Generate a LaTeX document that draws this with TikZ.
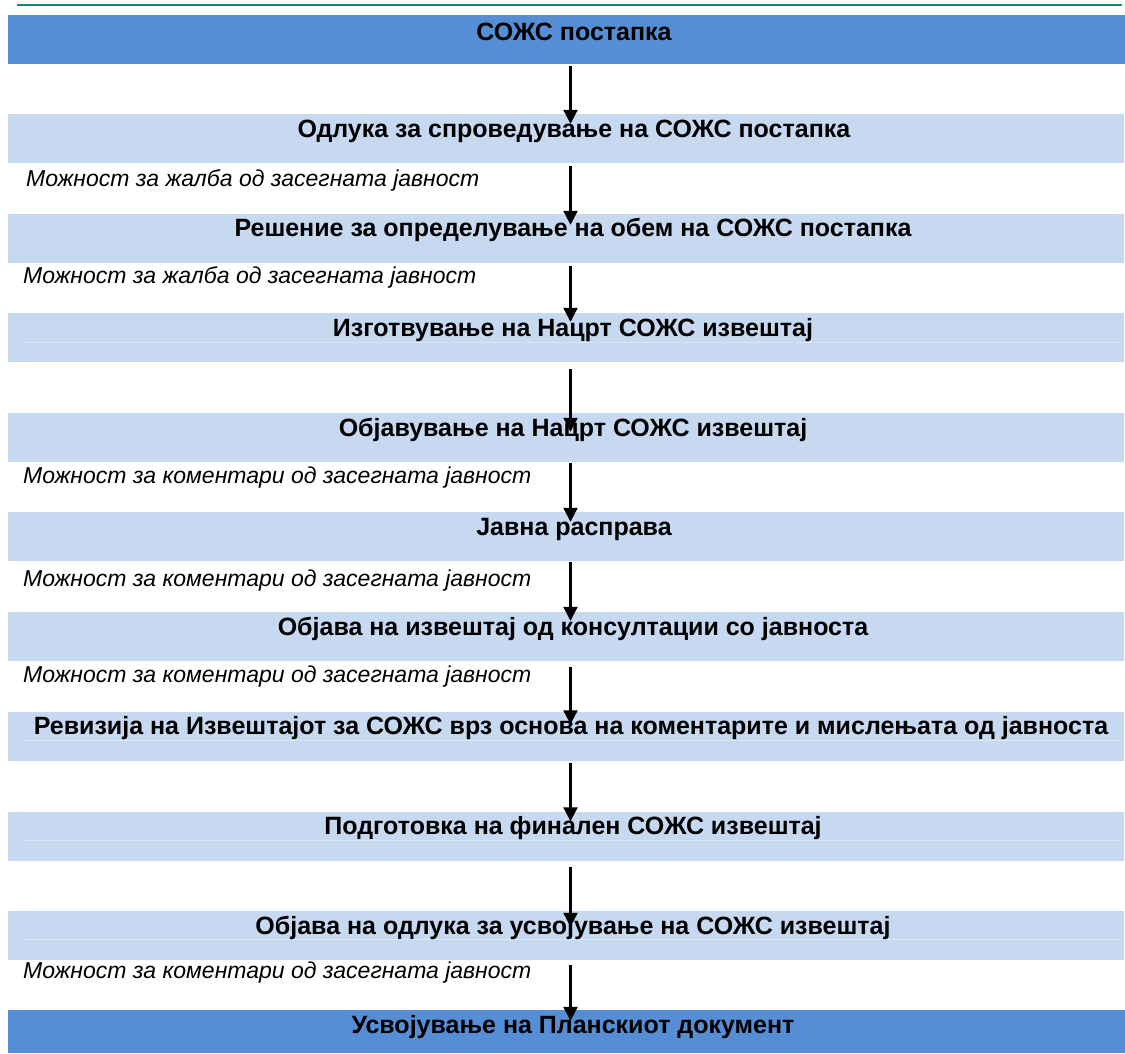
\documentclass[tikz,border=0pt]{standalone}
\usepackage{fontspec}
\setmainfont{Liberation Sans}
\usetikzlibrary{arrows.meta}
\definecolor{darkbox}{RGB}{85,142,213}
\definecolor{lightbox}{RGB}{198,217,241}
\definecolor{faintline}{RGB}{220,231,246}
\definecolor{tealline}{RGB}{31,132,124}
\tikzset{
  dbox/.style={rectangle,fill=darkbox,draw=none,inner sep=0pt,minimum width=1117pt},
  lbox/.style={rectangle,fill=lightbox,draw=none,inner sep=0pt,minimum width=1116pt,minimum height=49pt},
  btext/.style={anchor=base,inner sep=0pt,font=\bfseries\fontsize{25}{29}\selectfont},
  itext/.style={anchor=base west,inner sep=0pt,font=\itshape\fontsize{23}{27}\selectfont},
  arr/.style={line width=2.2pt,-{Triangle[width=14pt,length=14pt]}},
  fline/.style={faintline,line width=1pt}
}
\begin{document}
\begin{tikzpicture}[x=1pt,y=-1pt]
\useasboundingbox (0,0) rectangle (1125,1053);
% top line
\draw[tealline,line width=2pt] (17,5) -- (1122,5);
% boxes
\node[dbox,minimum height=49pt] (b0) at (566,39.5) {};
\node[lbox] (b1) at (566,138.5) {};
\node[lbox] (b2) at (566,238.5) {};
\node[lbox] (b3) at (566,337.5) {};
\node[lbox] (b4) at (566,437.5) {};
\node[lbox] (b5) at (566,536.5) {};
\node[lbox] (b6) at (566,636.5) {};
\node[lbox] (b7) at (566,736) {};
\node[lbox] (b8) at (566,836) {};
\node[lbox] (b9) at (566,935.5) {};
\node[dbox,minimum height=43pt] (b10) at (566,1031.5) {};
% faint lines
\draw[fline] (22,342) -- (1120,342);
\draw[fline] (22,740.5) -- (1120,740.5);
\draw[fline] (22,840) -- (1120,840);
\draw[fline] (22,939) -- (1120,939);
% box texts
\node[btext] (t0) at (574,40) {СОЖС постапка};
\node[btext] (t1) at (574,137) {Одлука за спроведување на СОЖС постапка};
\node[btext] (t2) at (573,236) {Решение за определување на обем на СОЖС постапка};
\node[btext] (t3) at (573,336) {Изготвување на Нацрт СОЖС извештај};
\node[btext] (t4) at (573,436) {Објавување на Нацрт СОЖС извештај};
\node[btext] (t5) at (574,535) {Јавна расправа};
\node[btext] (t6) at (573,635) {Објава на извештај од консултации со јавноста};
\node[btext] (t7) at (571,734) {Ревизија на Извештајот за СОЖС врз основа на коментарите и мислењата од јавноста};
\node[btext] (t8) at (573,834) {Подготовка на финален СОЖС извештај};
\node[btext] (t9) at (573,934) {Објава на одлука за усвојување на СОЖС извештај};
\node[btext] (t10) at (573,1033) {Усвојување на Планскиот документ};
% italic notes
\node[itext] (n1) at (26,186) {Можност за жалба од засегната јавност};
\node[itext] (n2) at (23,283) {Можност за жалба од засегната јавност};
\node[itext] (n4) at (23,483) {Можност за коментари од засегната јавност};
\node[itext] (n5) at (23,586) {Можност за коментари од засегната јавност};
\node[itext] (n6) at (23,682) {Можност за коментари од засегната јавност};
\node[itext] (n9) at (23,978) {Можност за коментари од засегната јавност};
% arrows
\draw[arr] ([xshift=4.5pt,yshift=-2pt]b0.south) -- ([xshift=4.5pt,yshift=-10pt]b1.north);
\draw[arr] ([xshift=4.5pt,yshift=-3pt]b1.south) -- ([xshift=4.5pt,yshift=-11pt]b2.north);
\draw[arr] ([xshift=4.5pt,yshift=-3pt]b2.south) -- ([xshift=4.5pt,yshift=-9pt]b3.north);
\draw[arr] ([xshift=4.5pt,yshift=-7pt]b3.south) -- ([xshift=4.5pt,yshift=-19pt]b4.north);
\draw[arr] ([xshift=4.5pt,yshift=-1pt]b4.south) -- ([xshift=4.5pt,yshift=-10pt]b5.north);
\draw[arr] ([xshift=4.5pt,yshift=-1pt]b5.south) -- ([xshift=4.5pt,yshift=-9pt]b6.north);
\draw[arr] ([xshift=4.5pt,yshift=-6pt]b6.south) -- ([xshift=4.5pt,yshift=-13pt]b7.north);
\draw[arr] ([xshift=4.5pt,yshift=-2pt]b7.south) -- ([xshift=4.5pt,yshift=-10pt]b8.north);
\draw[arr] ([xshift=4.5pt,yshift=-6pt]b8.south) -- ([xshift=4.5pt,yshift=-16pt]b9.north);
\draw[arr] ([xshift=4.5pt,yshift=-5pt]b9.south) -- ([xshift=4.5pt,yshift=-11pt]b10.north);
\end{tikzpicture}
\end{document}
